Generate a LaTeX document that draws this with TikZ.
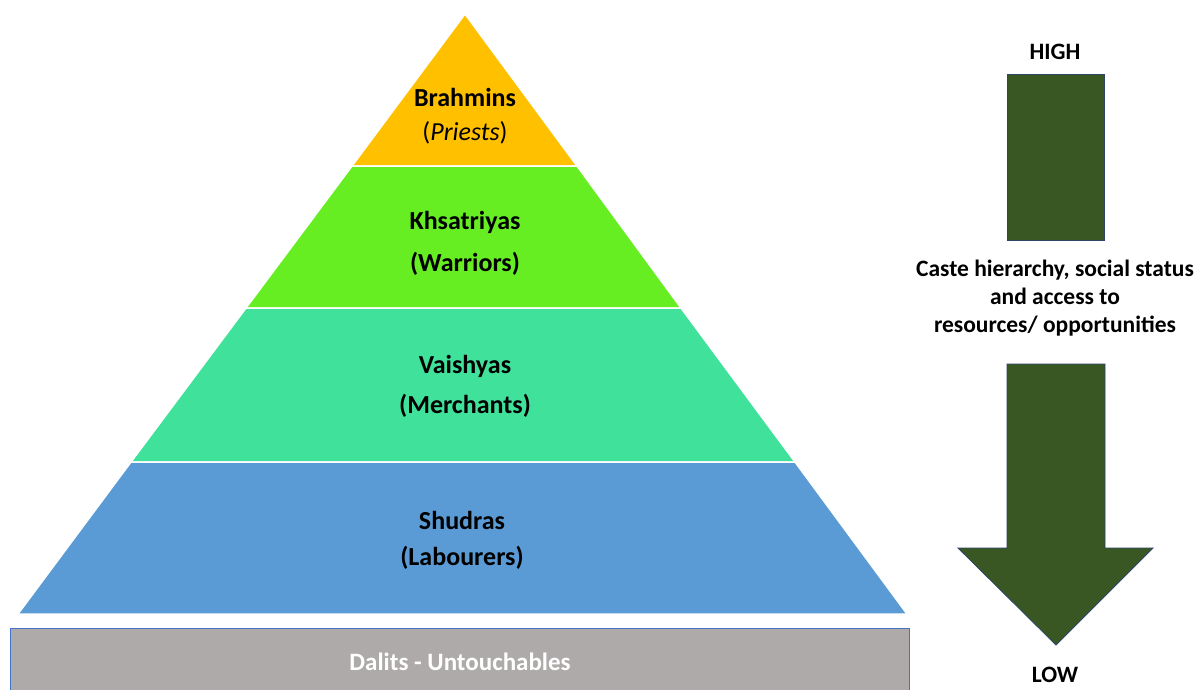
\documentclass[tikz,border=0pt]{standalone}
\usepackage{fontspec}
\setmainfont{Carlito}
\begin{document}
\begin{tikzpicture}[x=1pt,y=-1pt,
  band/.style={draw=white, line width=1.5pt, line join=miter},
  lbl/.style={font=\fontsize{26}{30}\selectfont\bfseries, text=black, inner sep=0pt, anchor=center},
  rlbl/.style={font=\fontsize{23.5}{28}\selectfont\bfseries, text=black, inner sep=0pt, anchor=center},
  arr/.style={fill=arrgreen, draw=arrblue, line width=0.8pt}]
\definecolor{brah}{HTML}{FFC000}
\definecolor{ksha}{HTML}{66EE22}
\definecolor{vais}{HTML}{40E19B}
\definecolor{shud}{HTML}{5B9BD5}
\definecolor{dalit}{HTML}{AEAAAA}
\definecolor{dalitb}{HTML}{4472C4}
\definecolor{arrgreen}{HTML}{385723}
\definecolor{arrblue}{HTML}{2F4468}
\useasboundingbox (0,0) rectangle (1203,689);
\fill[white] (0,0) rectangle (1203,689);
% pyramid bands
\draw[band, fill=brah] (465,14) -- (577,166) -- (352,166) -- cycle;
\draw[band, fill=ksha] (352,166) -- (577,166) -- (681,308) -- (246,308) -- cycle;
\draw[band, fill=vais] (246,308) -- (681,308) -- (795,462) -- (131,462) -- cycle;
\draw[band, fill=shud] (131,462) -- (795,462) -- (907,614) -- (18,614) -- cycle;
% dalits
\draw[fill=dalit, draw=dalitb, line width=0.8pt] (10,628) rectangle (909,695);
% labels
\node[lbl] (brahmins) at (465,97) {Brahmins};
\node[lbl, font=\fontsize{26}{30}\selectfont] (priests) at (465,133) {(\textit{Priests})};
\node[lbl] (kshat) at (465,222) {Khsatriyas};
\node[lbl] (warr) at (465,264) {(Warriors)};
\node[lbl] (vaish) at (465,366) {Vaishyas};
\node[lbl] (merch) at (465,406) {(Merchants)};
\node[lbl] (shudra) at (462,520) {Shudras};
\node[lbl] (labour) at (462,558) {(Labourers)};
\node[lbl, text=white, font=\fontsize{25}{30}\selectfont\bfseries] (dalits) at (460,662) {Dalits - Untouchables};
% arrow
\draw[arr] (1007,74) rectangle (1104,240);
\draw[arr] (1007,364) -- (1105,364) -- (1105,548) -- (1153,548) -- (1056,645) -- (958,548) -- (1007,548) -- cycle;
\node[rlbl] (high) at (1055,52) {HIGH};
\node[rlbl] (low) at (1055,675) {LOW};
\node[rlbl, align=center] (caste) at (1055,298)
  {Caste hierarchy, social status\\and access to\\resources/ opportunities};
\end{tikzpicture}
\end{document}
